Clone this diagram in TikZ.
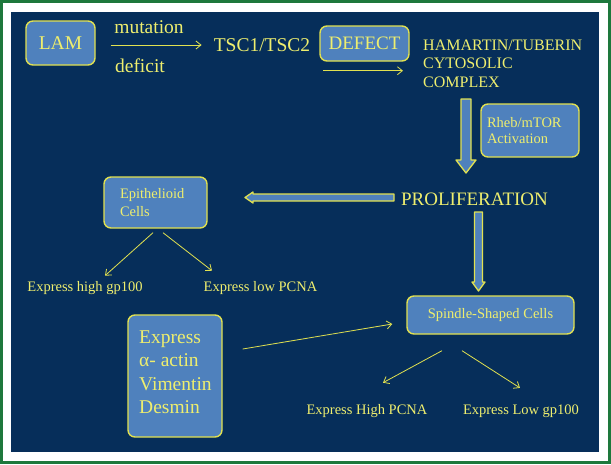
\documentclass[tikz,border=0pt]{standalone}
\usepackage{fontspec}
\setmainfont{Liberation Serif}
\usetikzlibrary{arrows.meta}
\definecolor{navy}{RGB}{6,46,90}
\definecolor{boxblue}{RGB}{79,129,189}
\definecolor{ylw}{RGB}{238,238,110}
\definecolor{ylwline}{RGB}{225,225,80}
\definecolor{framegreen}{RGB}{30,120,60}
\begin{document}
\begin{tikzpicture}[x=1pt,y=-1pt,
 bluebox/.style={draw=ylwline, fill=boxblue, line width=1.4pt, rounded corners=7pt, text=ylw, inner sep=0pt},
 txt/.style={text=ylw, inner sep=0pt},
 conn/.style={draw=ylwline, line width=0.8pt, -{Straight Barb[length=5pt,width=8pt]}},
 blockarrow/.style={draw=ylwline, fill=boxblue, line width=1.3pt, line join=round},
 fA/.style={font=\fontsize{19.5}{23.3}\selectfont},
 fB/.style={font=\fontsize{14.5}{17.4}\selectfont}
]
\useasboundingbox (0,0) rectangle (611,464);
\fill[framegreen] (0,0) rectangle (611,464);
\fill[white] (3,3) rectangle (608,461);
\fill[navy] (11,12) rectangle (599,452);

% top row
\node[bluebox, minimum width=69pt, minimum height=44pt, fA] (lam) at (60.5,43) {LAM};
\node[txt, fA] (mut) at (149,27) {mutation};
\node[txt, fA] (def) at (140,66) {deficit};
\node[txt, fA] (tsc) at (262,45) {TSC1/TSC2};
\draw[conn] ([shift={(15,2)}]lam.east) -- ([shift={(-12,0)}]tsc.west);

\node[bluebox, minimum width=89pt, minimum height=35pt, font=\fontsize{19}{23}\selectfont] (defect) at (364.5,43.5) {DEFECT};
\draw[conn] ([shift={(-41.5,9)}]defect.south) -- ([shift={(38.5,9)}]defect.south);

\node[txt, anchor=north west, align=left, font=\fontsize{16}{18.5}\selectfont] (ham) at (423,39.3) {HAMARTIN/TUBERIN\\CYTOSOLIC\\COMPLEX};

% block arrow down 1
\draw[blockarrow] (461,99) -- (471,99) -- (471,160) -- (476,160) -- (466,173) -- (456,160) -- (461,160) -- cycle;

\node[bluebox, minimum width=98pt, minimum height=53pt, text width=86pt, inner xsep=6pt, align=left, font=\fontsize{14.5}{16.5}\selectfont] (rheb) at (530,130.5) {Rheb/mTOR\\Activation};

\node[txt, font=\fontsize{19}{23}\selectfont] (prol) at (474.5,199) {PROLIFERATION};

% block arrow left
\draw[blockarrow] (394,194) -- (253,194) -- (253,192) -- (245,197.5) -- (253,203) -- (253,201) -- (394,201) -- cycle;

% block arrow down 2
\draw[blockarrow] (474.5,212) -- (482.5,212) -- (482.5,282) -- (485,282) -- (478.5,291) -- (472,282) -- (474.5,282) -- cycle;

% epithelioid branch
\node[bluebox, minimum width=103pt, minimum height=51pt, text width=71pt, inner xsep=16pt, align=left, font=\fontsize{14.5}{18}\selectfont] (epi) at (155.5,202.5) {Epithelioid\\Cells};
\node[txt, fB] (egp) at (85,288) {Express high gp100};
\node[txt, fB] (epc) at (260.5,288) {Express low PCNA};
\draw[conn] ([shift={(-2.5,4)}]epi.south) -- ([shift={(20,-5.5)}]egp.north);
\draw[conn] ([shift={(7.5,4)}]epi.south) -- ([shift={(-48.5,-10.5)}]epc.north);

% spindle branch
\node[bluebox, minimum width=167pt, minimum height=38pt, fB] (spin) at (490.5,315) {Spindle-Shaped Cells};
\node[bluebox, minimum width=94pt, minimum height=122pt] (expbox) at (175,376) {};
\node[txt, anchor=north west, align=left, fA] (exptxt) at (139,330.5) {Express\\α- actin\\Vimentin\\Desmin};
\draw[conn] ([shift={(20,-27)}]expbox.east) -- ([shift={(-14,9)}]spin.west);

\node[txt, fB] (ehp) at (367,411) {Express High PCNA};
\node[txt, fB] (elg) at (521,411) {Express Low gp100};
\draw[conn] ([shift={(-48.5,16)}]spin.south) -- ([shift={(16,-21.5)}]ehp.north);
\draw[conn] ([shift={(-28.5,16)}]spin.south) -- ([shift={(-1,-16.5)}]elg.north);
\end{tikzpicture}
\end{document}
